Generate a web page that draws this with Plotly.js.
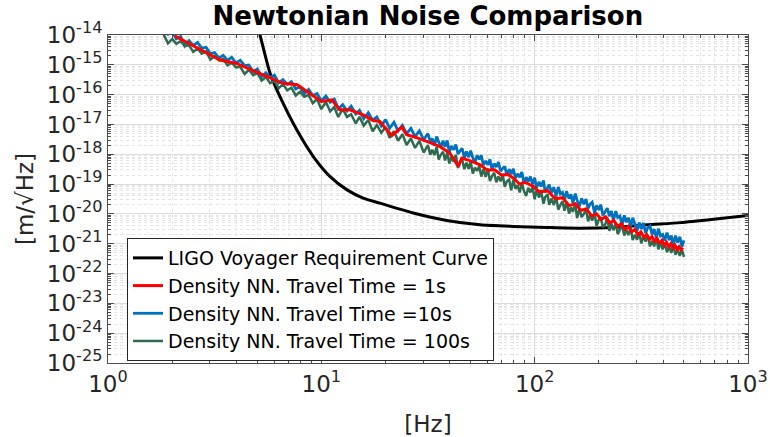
<!DOCTYPE html>
<html>
<head>
<meta charset="utf-8">
<script src="https://cdn.plot.ly/plotly-3.0.1.min.js"></script>
<style>html,body{margin:0;padding:0;background:#fff;}#chart{width:770px;height:437px;}</style>
</head>
<body>
<div id="chart"></div>
<script>
// ---- Data ----
const voyagerFreq = [5.0, 5.16, 5.75, 6.4, 7.67, 9.17, 11.0, 13.2, 15.7, 18.8, 27.0, 38.7, 55.5, 79.4, 114, 163, 234, 335, 481, 689, 1000];
const voyagerASD  = [2.3e-14, 1.0e-14, 5.2e-16, 8.5e-17, 6.6e-18, 8.4e-19, 1.78e-19, 6.4e-20, 3.4e-20, 2.3e-20, 1.07e-20, 6.0e-21, 4.3e-21, 3.8e-21, 3.5e-21, 3.3e-21, 3.5e-21, 4.3e-21, 5.1e-21, 6.6e-21, 8.9e-21];

const nn1sFreq = [2.06, 3.35, 4.0, 6.6, 7.7, 10.0, 11.2, 12.2, 13.6, 15.7, 17.5, 18.8, 21.4, 23.8, 25.1, 28, 31.2, 36, 40, 43.9, 45.5, 50, 55.5, 60, 65, 70, 75, 79.5, 85, 90, 98.6,
  105, 115, 125, 135, 145, 155, 165, 175, 185, 195, 205, 215, 225, 235, 245, 255, 265, 275, 285, 295, 305, 315, 325, 335, 345, 355, 365, 375, 385, 395, 405, 415, 425, 435, 445, 455, 465, 475, 485, 495];
const nn1sASD = [9.3e-15, 1.45e-15, 1.12e-15, 2.4e-16, 2.14e-16, 5.9e-17, 6.7e-17, 3.1e-17, 3.1e-17, 2.1e-17, 1.35e-17, 1.26e-17, 4.2e-18, 8.2e-18, 4.5e-18, 3.6e-18, 2.7e-18, 1.8e-18, 1.1e-18, 3.9e-19, 7.4e-19, 6.0e-19, 4.4e-19, 2.9e-19, 3.0e-19, 2.0e-19, 2.1e-19, 1.58e-19, 1.0e-19, 1.15e-19, 8.3e-20,
  5.5e-20, 6.0e-20, 3.2e-20, 3.5e-20, 1.9e-20, 2.2e-20, 1.3e-20, 1.5e-20, 8.5e-21, 1.0e-20, 6.5e-21, 8.0e-21, 5.0e-21, 6.0e-21, 3.8e-21, 4.7e-21, 3.0e-21, 3.8e-21, 2.5e-21, 3.0e-21, 2.0e-21, 2.5e-21, 1.65e-21, 2.05e-21, 1.4e-21, 1.75e-21, 1.2e-21, 1.5e-21, 1.0e-21, 1.3e-21, 9.0e-22, 1.12e-21, 8.0e-22, 1.0e-21, 7.2e-22, 8.8e-22, 6.5e-22, 8.0e-22, 6.2e-22, 7.4e-22];

const nnFreq = [1.82, 1.91, 2.0, 2.09, 2.19, 2.29, 2.4, 2.51, 2.63, 2.75, 2.88, 3.02, 3.16, 3.31, 3.47, 3.63, 3.8, 3.98, 4.17, 4.37, 4.57, 4.79, 5.01, 5.25, 5.5, 5.75, 6.03, 6.31, 6.61, 6.92, 7.24, 7.59, 7.94, 8.32, 8.71, 9.12, 9.55,
  10.0, 10.5, 11.0, 11.5, 12.0, 12.6, 13.2, 13.8, 14.5, 15.1, 15.8, 16.6, 17.4, 18.2, 19.1, 20.0, 20.9, 21.9, 22.9, 24.0, 25.1, 26.3, 27.5, 28.8, 30.2,
  31.6, 32.4, 33.1, 33.9, 34.7, 35.5, 36.3, 37.2, 38.0, 38.9, 39.8, 40.7, 41.7, 42.7, 43.7, 44.7, 45.7, 46.8, 47.9, 49.0, 50.1, 51.3, 52.5, 53.7, 55.0, 56.2, 57.5, 58.9, 60.3, 61.7,
  63.1, 64.6, 66.1, 67.6, 69.2, 70.8, 72.4, 74.1, 75.9, 77.6, 79.4, 81.3, 83.2, 85.1, 87.1, 89.1, 91.2, 93.3, 95.5, 97.7,
  100, 102, 105, 107, 110, 112, 115, 117, 120, 123, 126, 129, 132, 135, 138, 141, 145, 148, 151, 155, 158, 162, 166, 170, 174, 178, 182, 186, 191, 195,
  200, 204, 209, 214, 219, 224, 229, 234, 240, 245, 251, 257, 263, 269, 275, 282, 288, 295, 302, 309, 316, 324, 331, 339, 347, 355, 363, 372, 380, 389,
  398, 407, 417, 427, 437, 447, 457, 468, 479, 490, 501];

const nn10sASD = [1.52e-14, 1.05e-14, 1.24e-14, 7.45e-15, 8.95e-15, 4.29e-15, 6.49e-15, 4.49e-15, 5.65e-15, 3.56e-15, 3.91e-15, 2.36e-15, 2.58e-15, 1.71e-15, 2.10e-15, 1.42e-15, 1.79e-15, 1.15e-15, 1.42e-15, 9.38e-16, 9.82e-16, 5.92e-16, 7.28e-16, 4.0e-16, 5.40e-16, 3.73e-16, 4.49e-16, 2.47e-16, 3.18e-16, 2.20e-16, 2.70e-16, 1.56e-16, 1.83e-16, 1.08e-16, 1.49e-16, 9.38e-17, 1.08e-16,
  6.19e-17, 8.95e-17, 5.52e-17, 7.11e-17, 3.33e-17, 4.59e-17, 2.83e-17, 4.09e-17, 2.25e-17, 2.96e-17, 1.56e-17, 2.47e-17, 1.39e-17, 1.79e-17, 8.95e-18, 1.45e-17, 7.45e-18, 1.18e-17, 6.05e-18, 9.38e-18, 4.92e-18, 7.45e-18, 3.91e-18, 6.05e-18, 3.10e-18,
  4.92e-18, 2.70e-18, 3.40e-18, 1.96e-18, 3.91e-18, 2.41e-18, 1.71e-18, 2.83e-18, 1.79e-18, 2.90e-18, 1.15e-18, 1.91e-18, 1.42e-18, 2.10e-18, 1.03e-18, 1.29e-18, 1.59e-18, 7.62e-19, 1.24e-18, 7.98e-19, 1.32e-18, 7.62e-19, 5.15e-19, 9.16e-19, 6.79e-19,
  9.16e-19, 4.29e-19, 6.05e-19, 4.39e-19, 6.79e-19, 3.03e-19, 4.92e-19, 3.73e-19, 5.52e-19, 2.70e-19, 3.33e-19, 3.91e-19, 1.96e-19, 3.18e-19, 2.15e-19, 3.25e-19, 1.59e-19, 2.20e-19, 1.71e-19, 2.52e-19, 1.05e-19, 1.71e-19, 1.21e-19, 1.79e-19, 9.82e-20,
  1.63e-19, 7.62e-20, 1.18e-19, 8.35e-20, 1.32e-19, 5.27e-20, 8.17e-20, 9.59e-20, 5.27e-20, 7.80e-20, 3.91e-20, 7.98e-20, 4.70e-20, 5.27e-20, 2.77e-20, 5.78e-20, 3.25e-20, 4.59e-20, 2.36e-20, 4.81e-20, 2.90e-20, 1.79e-20, 3.33e-20, 2.10e-20, 3.18e-20, 1.52e-20, 2.15e-20, 2.47e-20, 1.08e-20, 1.91e-20,
  1.36e-20, 2.05e-20, 8.95e-21, 1.26e-20, 1.56e-20, 8.35e-21, 1.24e-20, 6.05e-21, 1.24e-20, 7.62e-21, 8.55e-21, 4.29e-21, 8.95e-21, 5.27e-21, 7.45e-21, 3.82e-21, 7.45e-21, 4.59e-21, 2.77e-21, 5.15e-21, 3.10e-21, 4.92e-21, 2.25e-21, 3.48e-21, 3.91e-21, 2.05e-21, 3.10e-21, 1.52e-21, 3.18e-21, 1.83e-21,
  2.05e-21, 1.26e-21, 2.36e-21, 1.32e-21, 1.87e-21, 9.16e-22, 1.87e-21, 1.10e-21, 1.71e-21, 7.98e-22, 1.29e-21];

const nn100sASD = [1.08e-14, 5.27e-15, 7.28e-15, 5.04e-15, 6.19e-15, 4.29e-15, 4.49e-15, 2.70e-15, 3.56e-15, 2.36e-15, 2.83e-15, 1.49e-15, 1.96e-15, 1.42e-15, 1.56e-15, 9.6e-16, 1.18e-15, 8.17e-16, 8.55e-16, 4.92e-16, 6.79e-16, 4.49e-16, 5.40e-16, 2.96e-16, 3.91e-16, 2.41e-16, 2.83e-16, 1.63e-16, 2.25e-16, 1.39e-16, 1.71e-16, 9.38e-17, 1.24e-16, 8.55e-17, 9.82e-17, 5.15e-17, 7.11e-17,
  3.25e-17, 5.65e-17, 2.77e-17, 3.82e-17, 1.79e-17, 3.25e-17, 1.79e-17, 2.20e-17, 1.08e-17, 1.79e-17, 9.16e-18, 1.42e-17, 5.92e-18, 9.59e-18, 5.27e-18, 8.17e-18, 3.56e-18, 5.92e-18, 2.83e-18, 4.70e-18, 2.05e-18, 3.40e-18, 1.63e-18, 2.83e-18, 1.13e-18,
  2.05e-18, 9.59e-19, 1.42e-18, 9.38e-19, 1.75e-18, 6.64e-19, 9.59e-19, 1.21e-18, 6.19e-19, 1.15e-18, 4.92e-19, 7.98e-19, 5.65e-19, 9.59e-19, 3.48e-19, 5.52e-19, 6.79e-19, 3.18e-19, 5.27e-19, 3.25e-19, 5.65e-19, 2.25e-19, 3.56e-19, 2.77e-19, 4.0e-19,
  1.79e-19, 3.10e-19, 1.75e-19, 3.33e-19, 1.26e-19, 1.87e-19, 2.41e-19, 1.15e-19, 1.79e-19, 1.24e-19, 2.15e-19, 8.17e-20, 1.24e-19, 1.42e-19, 6.19e-20, 1.36e-19, 6.95e-20, 9.16e-20, 5.27e-20, 1.08e-19, 5.78e-20, 4.0e-20, 7.45e-20, 5.27e-20, 7.80e-20,
  3.10e-20, 6.05e-20, 3.56e-20, 6.34e-20, 2.20e-20, 3.65e-20, 4.49e-20, 2.0e-20, 3.33e-20, 1.96e-20, 3.82e-20, 1.39e-20, 2.0e-20, 2.64e-20, 1.29e-20, 2.58e-20, 1.03e-20, 1.67e-20, 1.18e-20, 2.20e-20, 7.28e-21, 1.45e-20, 7.80e-21, 1.0e-20, 1.42e-20, 5.65e-21, 9.59e-21, 5.92e-21, 1.03e-20, 4.0e-21,
  6.49e-21, 7.62e-21, 3.56e-21, 4.39e-21, 7.45e-21, 2.70e-21, 4.70e-21, 2.83e-21, 4.92e-21, 2.10e-21, 2.96e-21, 4.29e-21, 1.87e-21, 3.03e-21, 1.96e-21, 3.48e-21, 1.32e-21, 2.0e-21, 1.36e-21, 2.41e-21, 1.03e-21, 1.83e-21, 1.18e-21, 1.91e-21, 8.17e-22, 1.26e-21, 8.17e-22, 1.52e-21, 6.49e-22, 1.10e-21,
  6.49e-22, 1.08e-21, 5.15e-22, 7.98e-22, 4.92e-22, 8.75e-22, 4.29e-22, 6.34e-22, 3.91e-22, 6.19e-22, 3.65e-22];

const yTickVals = [1e-25, 1e-24, 1e-23, 1e-22, 1e-21, 1e-20, 1e-19, 1e-18, 1e-17, 1e-16, 1e-15, 1e-14];
const yTickText = ['10<sup>-25</sup>', '10<sup>-24</sup>', '10<sup>-23</sup>', '10<sup>-22</sup>', '10<sup>-21</sup>', '10<sup>-20</sup>', '10<sup>-19</sup>', '10<sup>-18</sup>', '10<sup>-17</sup>', '10<sup>-16</sup>', '10<sup>-15</sup>', '10<sup>-14</sup>'];
const xTickVals = [1, 10, 100, 1000];
const xTickText = ['10<sup>0</sup>', '10<sup>1</sup>', '10<sup>2</sup>', '10<sup>3</sup>'];

const names = ['LIGO Voyager Requirement Curve', 'Density NN. Travel Time = 1s', 'Density NN. Travel Time =10s', 'Density NN. Travel Time = 100s'];

// ---- Traces ----
const traces = [
  {x: voyagerFreq, y: voyagerASD, name: names[0], mode: 'lines', line: {color: '#000000', width: 3, shape: 'spline', smoothing: 0.6}, legendrank: 1},
  {x: nnFreq, y: nn10sASD, name: names[2], mode: 'lines', line: {color: '#0072BD', width: 2.8}, legendrank: 3},
  {x: nnFreq, y: nn100sASD, name: names[3], mode: 'lines', line: {color: '#2F6B50', width: 2.5}, legendrank: 4},
  {x: nn1sFreq, y: nn1sASD, name: names[1], mode: 'lines', line: {color: '#FF0000', width: 3}, legendrank: 2}
];

const fontFam = 'DejaVu Sans, sans-serif';
const axisCommon = {
  type: 'log',
  showline: true, linecolor: '#4d4d4d', linewidth: 1, mirror: 'allticks',
  ticks: 'inside', ticklen: 6, tickcolor: '#4d4d4d',
  showgrid: true, gridcolor: '#dcdcdc', gridwidth: 1,
  zeroline: false,
  tickfont: {family: fontFam, size: 23, color: '#262626'},
  minor: {ticks: 'inside', ticklen: 3, tickcolor: '#4d4d4d', showgrid: true, gridcolor: '#e4e4e4', griddash: 'dot', gridwidth: 1, dtick: 'D1'}
};

const layout = {
  width: 770, height: 437,
  margin: {l: 108, r: 22, t: 35, b: 74},
  paper_bgcolor: '#ffffff', plot_bgcolor: '#ffffff',
  font: {family: fontFam, color: '#262626'},
  title: {text: '<b>Newtonian Noise Comparison</b>', font: {family: fontFam, size: 26, color: '#000000'}, x: 0.5556, xanchor: 'center', y: 0.963, yanchor: 'middle', yref: 'container'},
  xaxis: Object.assign({}, axisCommon, {
    range: [0, 3], tickmode: 'array', tickvals: xTickVals, ticktext: xTickText,
    title: {text: '[Hz]', font: {family: fontFam, size: 23, color: '#262626'}, standoff: 20}
  }),
  yaxis: Object.assign({}, axisCommon, {
    range: [-25, -14], tickmode: 'array', tickvals: yTickVals, ticktext: yTickText,
    title: {text: '[m/√Hz]', font: {family: fontFam, size: 23, color: '#262626'}, standoff: 6}
  }),
  showlegend: true,
  legend: {x: 0.0297, y: 0.381, xanchor: 'left', yanchor: 'top', bgcolor: '#ffffff', bordercolor: '#262626', borderwidth: 1,
    font: {family: fontFam, size: 19, color: '#000000'}, traceorder: 'normal', tracegroupgap: 0, itemwidth: 30}
};

Plotly.newPlot('chart', traces, layout, {staticPlot: true, displayModeBar: false});
</script>
</body>
</html>
